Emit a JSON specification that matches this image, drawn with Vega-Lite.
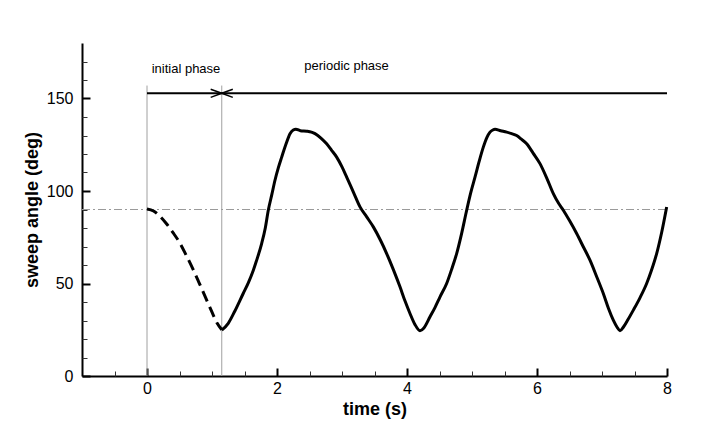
{
  "$schema": "https://vega.github.io/schema/vega-lite/v6.json",
  "width": 585,
  "height": 333,
  "autosize": {"type": "none"},
  "padding": {"left": 82, "top": 43, "right": 44, "bottom": 45},
  "background": "white",
  "config": {"view": {"stroke": null}},
  "datasets": {
    "initial": [
      {"t": 0, "v": 90.3}, {"t": 0.1, "v": 89.2}, {"t": 0.2, "v": 86.3}, {"t": 0.3, "v": 82.3},
      {"t": 0.4, "v": 77.5}, {"t": 0.5, "v": 72.2}, {"t": 0.6, "v": 65.5}, {"t": 0.7, "v": 58.3},
      {"t": 0.8, "v": 50.5}, {"t": 0.9, "v": 42.5}, {"t": 1.0, "v": 34.5}, {"t": 1.08, "v": 28.5},
      {"t": 1.15, "v": 25}
    ],
    "periodic": [
      {"t": 1.15, "v": 24.8}, {"t": 1.25, "v": 28.5}, {"t": 1.35, "v": 35}, {"t": 1.48, "v": 44.6},
      {"t": 1.56, "v": 50.5}, {"t": 1.636, "v": 57.2}, {"t": 1.7, "v": 64}, {"t": 1.764, "v": 71.6},
      {"t": 1.82, "v": 80}, {"t": 1.866, "v": 89.6}, {"t": 1.92, "v": 98}, {"t": 1.969, "v": 105.8},
      {"t": 2.02, "v": 112.5}, {"t": 2.072, "v": 118.3}, {"t": 2.14, "v": 125.5}, {"t": 2.2, "v": 131},
      {"t": 2.25, "v": 133}, {"t": 2.29, "v": 133.4}, {"t": 2.36, "v": 132.6}, {"t": 2.457, "v": 132.3},
      {"t": 2.53, "v": 131.8}, {"t": 2.585, "v": 131}, {"t": 2.68, "v": 128.5}, {"t": 2.764, "v": 125.5},
      {"t": 2.84, "v": 122}, {"t": 2.918, "v": 118.3}, {"t": 3.0, "v": 113}, {"t": 3.072, "v": 107.5},
      {"t": 3.18, "v": 99}, {"t": 3.277, "v": 91.4}, {"t": 3.38, "v": 86}, {"t": 3.482, "v": 80.6},
      {"t": 3.59, "v": 73.5}, {"t": 3.687, "v": 66.2}, {"t": 3.79, "v": 57.5}, {"t": 3.892, "v": 48.2},
      {"t": 3.97, "v": 40.5}, {"t": 4.046, "v": 33.8}, {"t": 4.12, "v": 28}, {"t": 4.2, "v": 24.5},
      {"t": 4.26, "v": 26}, {"t": 4.354, "v": 32}, {"t": 4.43, "v": 37}, {"t": 4.508, "v": 42.8},
      {"t": 4.61, "v": 50}, {"t": 4.69, "v": 58}, {"t": 4.764, "v": 66.2}, {"t": 4.84, "v": 77},
      {"t": 4.918, "v": 89.6}, {"t": 4.98, "v": 99}, {"t": 5.046, "v": 107.5}, {"t": 5.11, "v": 116},
      {"t": 5.174, "v": 123.7}, {"t": 5.23, "v": 129}, {"t": 5.277, "v": 131.8}, {"t": 5.32, "v": 133},
      {"t": 5.354, "v": 133.4}, {"t": 5.44, "v": 132.6}, {"t": 5.534, "v": 131.8}, {"t": 5.61, "v": 131},
      {"t": 5.687, "v": 130}, {"t": 5.76, "v": 128}, {"t": 5.841, "v": 125.5}, {"t": 5.94, "v": 120.5},
      {"t": 6.046, "v": 114.8}, {"t": 6.15, "v": 107}, {"t": 6.251, "v": 98.6}, {"t": 6.33, "v": 93.5},
      {"t": 6.405, "v": 89.6}, {"t": 6.5, "v": 84}, {"t": 6.61, "v": 77}, {"t": 6.71, "v": 70},
      {"t": 6.815, "v": 62.6}, {"t": 6.92, "v": 53.5}, {"t": 7.02, "v": 44.6}, {"t": 7.1, "v": 36.5},
      {"t": 7.174, "v": 30.2}, {"t": 7.23, "v": 26.5}, {"t": 7.277, "v": 24.5}, {"t": 7.33, "v": 26.5},
      {"t": 7.4, "v": 30.5}, {"t": 7.482, "v": 35.6}, {"t": 7.58, "v": 42}, {"t": 7.687, "v": 50},
      {"t": 7.76, "v": 57}, {"t": 7.841, "v": 66.2}, {"t": 7.92, "v": 78}, {"t": 7.995, "v": 91.4}
    ],
    "vlines": [
      {"t": 0, "v": 0, "v2": 157},
      {"t": 1.15, "v": 0, "v2": 157}
    ],
    "hline": [
      {"t": -1, "t2": 8, "v": 90}
    ],
    "phaseline": [
      {"t": 0, "t2": 8, "v": 152.8}
    ],
    "arrows": [
      {"t": 0.98, "v": 155.0, "t2": 1.15, "v2": 152.8},
      {"t": 0.98, "v": 150.6, "t2": 1.15, "v2": 152.8},
      {"t": 1.32, "v": 155.0, "t2": 1.15, "v2": 152.8},
      {"t": 1.32, "v": 150.6, "t2": 1.15, "v2": 152.8}
    ],
    "labels": [
      {"t": 0.6, "v": 163.8, "label": "initial phase"},
      {"t": 3.07, "v": 165.6, "label": "periodic phase"}
    ]
  },
  "layer": [
    {
      "data": {"name": "hline"},
      "mark": {"type": "rule", "color": "#9a9a9a", "strokeWidth": 1, "strokeDash": [8, 3, 2, 3]},
      "encoding": {
        "x": {"field": "t", "type": "quantitative", "title": "time (s)",
          "scale": {"domain": [-1, 8], "nice": false, "zero": false},
          "axis": {
            "orient": "bottom", "values": [0, 2, 4, 6, 8], "grid": false,
            "domainColor": "black", "domainWidth": 2, "tickColor": "black", "tickWidth": 2, "tickSize": -8,
            "labelFont": "Liberation Sans", "labelFontSize": 16, "labelColor": "black", "labelPadding": 12,
            "labelFlush": false, "labelOverlap": false,
            "titleFont": "Liberation Sans", "titleFontSize": 18, "titleFontWeight": "bold", "titleColor": "black", "titlePadding": 4
          }
        },
        "x2": {"field": "t2"},
        "y": {"field": "v", "type": "quantitative", "title": "sweep angle (deg)",
          "scale": {"domain": [0, 180], "nice": false},
          "axis": {
            "orient": "left", "values": [0, 50, 100, 150], "grid": false,
            "domainColor": "black", "domainWidth": 2, "tickColor": "black", "tickWidth": 2, "tickSize": -8,
            "labelFont": "Liberation Sans", "labelFontSize": 16, "labelColor": "black", "labelPadding": 17,
            "labelFlush": false, "labelOverlap": false,
            "titleFont": "Liberation Sans", "titleFontSize": 18, "titleFontWeight": "bold", "titleColor": "black", "titlePadding": 5
          }
        }
      }
    },
    {
      "data": {"name": "periodic"},
      "mark": {"type": "point", "opacity": 0},
      "encoding": {
        "x": {"field": "t", "type": "quantitative",
          "axis": {
            "orient": "bottom", "title": null, "labels": false, "domain": false, "grid": false,
            "values": [-0.5, 0.5, 1, 1.5, 2.5, 3, 3.5, 4.5, 5, 5.5, 6.5, 7, 7.5],
            "tickColor": "#333", "tickWidth": 1, "tickSize": -5
          }
        },
        "y": {"field": "v", "type": "quantitative",
          "axis": {
            "orient": "left", "title": null, "labels": false, "domain": false, "grid": false,
            "values": [10, 20, 30, 40, 60, 70, 80, 90, 110, 120, 130, 140, 160, 170],
            "tickColor": "#333", "tickWidth": 1, "tickSize": -5
          }
        }
      }
    },
    {
      "data": {"name": "vlines"},
      "mark": {"type": "rule", "color": "#a0a0a0", "strokeWidth": 1},
      "encoding": {
        "x": {"field": "t", "type": "quantitative", "axis": null},
        "y": {"field": "v", "type": "quantitative", "axis": null},
        "y2": {"field": "v2"}
      }
    },
    {
      "data": {"name": "phaseline"},
      "mark": {"type": "rule", "color": "black", "strokeWidth": 2},
      "encoding": {
        "x": {"field": "t", "type": "quantitative", "axis": null},
        "x2": {"field": "t2"},
        "y": {"field": "v", "type": "quantitative", "axis": null}
      }
    },
    {
      "data": {"name": "arrows"},
      "mark": {"type": "rule", "color": "black", "strokeWidth": 1.5},
      "encoding": {
        "x": {"field": "t", "type": "quantitative", "axis": null},
        "x2": {"field": "t2"},
        "y": {"field": "v", "type": "quantitative", "axis": null},
        "y2": {"field": "v2"}
      }
    },
    {
      "data": {"name": "initial"},
      "mark": {"type": "line", "color": "black", "strokeWidth": 3, "strokeDash": [11, 6], "interpolate": "monotone"},
      "encoding": {
        "x": {"field": "t", "type": "quantitative", "axis": null},
        "y": {"field": "v", "type": "quantitative", "axis": null}
      }
    },
    {
      "data": {"name": "periodic"},
      "mark": {"type": "line", "color": "black", "strokeWidth": 3, "interpolate": "monotone"},
      "encoding": {
        "x": {"field": "t", "type": "quantitative", "axis": null},
        "y": {"field": "v", "type": "quantitative", "axis": null}
      }
    },
    {
      "data": {"name": "labels"},
      "mark": {"type": "text", "font": "Liberation Sans", "fontSize": 13, "color": "black", "align": "center", "baseline": "alphabetic"},
      "encoding": {
        "x": {"field": "t", "type": "quantitative", "axis": null},
        "y": {"field": "v", "type": "quantitative", "axis": null},
        "text": {"field": "label"}
      }
    }
  ],
  "resolve": {"axis": {"x": "independent", "y": "independent"}}
}
